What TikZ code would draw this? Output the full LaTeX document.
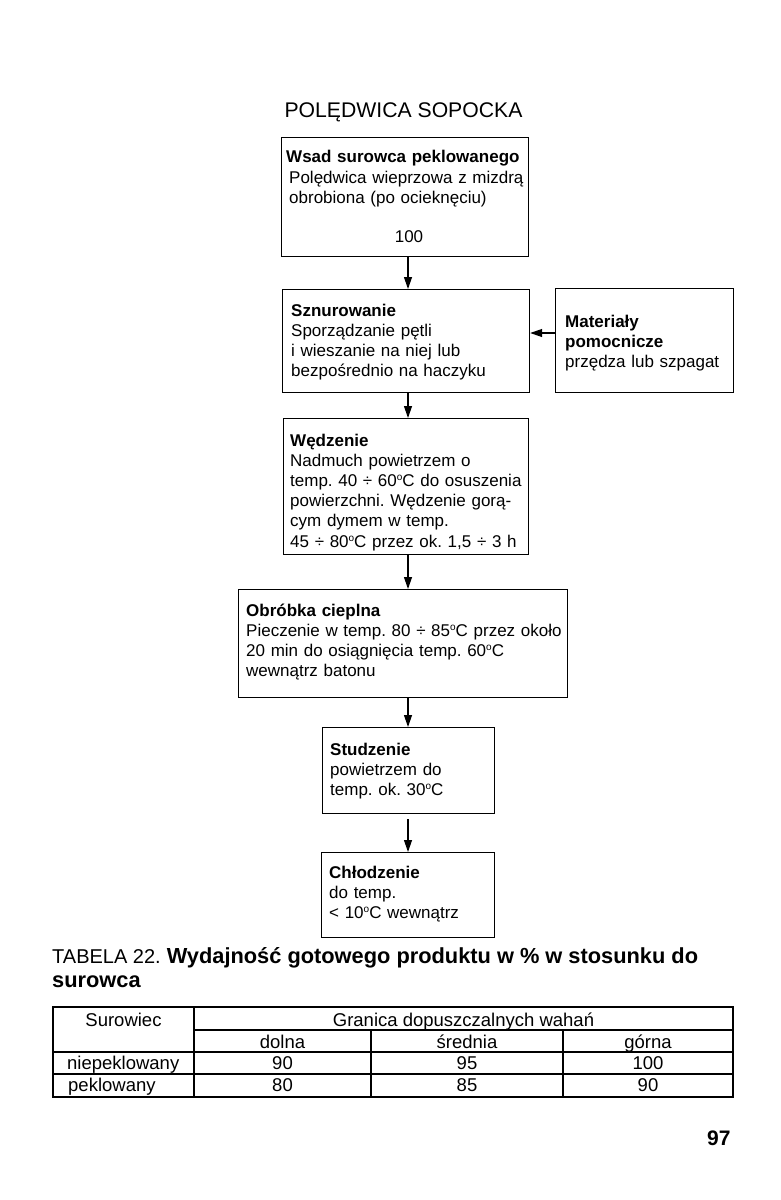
\documentclass[tikz,border=0pt]{standalone}
\usepackage{fontspec}
\setmainfont{Liberation Sans}
\usetikzlibrary{arrows.meta}
\frenchspacing
\newcommand{\dgC}{\raisebox{0.65ex}{\fontsize{10}{11}\selectfont o}C}
\tikzset{
  box/.style={draw, line width=1.2pt, inner sep=0pt, anchor=north west},
  btxt/.style={inner sep=0pt, anchor=base west, align=left, text width=330pt, font=\fontsize{17}{20.2}\selectfont},
  arr/.style={-{Triangle[length=12pt,width=8pt]}, line width=1.2pt},
  tline/.style={line width=1.2pt},
  ttxt/.style={inner sep=0pt, anchor=base, font=\fontsize{18.5}{22}\selectfont},
}
\begin{document}
\begin{tikzpicture}[x=1pt,y=-1pt]
\useasboundingbox[fill=white] (0,0) rectangle (780,1200);

% title
\node[inner sep=0pt, anchor=base, font=\fontsize{21.2}{24}\selectfont] (title) at (403.5,117) {POLĘDWICA SOPOCKA};

% boxes
\node[box, minimum width=247pt, minimum height=119pt] (b1) at (281,137) {};
\node[box, minimum width=247pt, minimum height=103pt] (b2) at (282,289) {};
\node[box, minimum width=178pt, minimum height=104pt] (b3) at (555,288) {};
\node[box, minimum width=245pt, minimum height=136pt] (b4) at (283,418) {};
\node[box, minimum width=329pt, minimum height=108pt] (b5) at (238,589) {};
\node[box, minimum width=172pt, minimum height=86pt] (b6) at (322,727) {};
\node[box, minimum width=173pt, minimum height=85pt] (b7) at (321,852) {};

% box texts
\node[btxt, font=\fontsize{17}{20.2}\selectfont\bfseries] (t1a) at (286,162) {Wsad surowca peklowanego};
\node[btxt] (t1b) at (289,183) {Polędwica wieprzowa z mizdrą\\obrobiona (po ociekn\k{e}ciu)};
\node[inner sep=0pt, anchor=base, font=\fontsize{17}{20.2}\selectfont] (t1c) at (409,242) {100};

\node[btxt] (t2) at (291,316) {\textbf{Sznurowanie}\\Sporządzanie pętli\\i wieszanie na niej lub\\bezpośrednio na haczyku};
\node[btxt] (t3) at (565,327) {\textbf{Materiały}\\\textbf{pomocnicze}\\przędza lub szpagat};
\node[btxt] (t4) at (290,446) {\textbf{Wędzenie}\\Nadmuch powietrzem o\\temp. 40 ÷ 60\dgC{} do osuszenia\\powierzchni. Wędzenie gorą-\\cym dymem w temp.\\45 ÷ 80\dgC{} przez ok. 1,5 ÷ 3 h};
\node[btxt] (t5) at (246,616) {\textbf{Obróbka cieplna}\\Pieczenie w temp. 80 ÷ 85\dgC{} przez około\\20 min do osiągnięcia temp. 60\dgC\\wewnątrz batonu};
\node[btxt] (t6) at (330,755) {\textbf{Studzenie}\\powietrzem do\\temp. ok. 30\dgC};
\node[btxt] (t7) at (329,878) {\textbf{Chłodzenie}\\do temp.\\< 10\dgC{} wewnątrz};

% connectors
\coordinate (ax) at (408,0);
\coordinate (ay) at (0,333);
\draw[arr] (b1.south -| ax) -- (b2.north -| ax);
\draw[arr] (b2.south -| ax) -- (b4.north -| ax);
\draw[arr] (b4.south -| ax) -- (b5.north -| ax);
\draw[arr] (b5.south -| ax) -- (b6.north -| ax);
\draw[arr, shorten <=5pt] (b6.south -| ax) -- (b7.north -| ax);
\draw[arr] (b3.west |- ay) -- (b2.east |- ay);

% table caption
\node[inner sep=0pt, anchor=base west, font=\fontsize{20}{24}\selectfont] (cap1) at (52,963) {TABELA 22.\hspace{6pt}{\fontsize{21.8}{24}\selectfont\bfseries Wydajność gotowego produktu w \% w stosunku do}};
\node[inner sep=0pt, anchor=base west, font=\fontsize{21.8}{24}\selectfont\bfseries] (cap2) at (52,987) {surowca};

% table
\draw[tline] (53,1007) rectangle (733,1097);
\draw[tline] (194,1030) -- (733,1030);
\draw[tline] (53,1052) -- (733,1052);
\draw[tline] (53,1074) -- (733,1074);
\draw[tline] (194,1007) -- (194,1097);
\draw[tline] (371,1030) -- (371,1097);
\draw[tline] (563,1030) -- (563,1097);

\node[ttxt] (h1) at (123.5,1026) {Surowiec};
\node[ttxt] (h2) at (463.5,1026) {Granica dopuszczalnych wahań};
\node[ttxt] (h3) at (282.5,1048) {dolna};
\node[ttxt] (h4) at (467,1048) {średnia};
\node[ttxt] (h5) at (648,1048) {górna};
\node[ttxt, anchor=base west] (r1) at (67,1069) {niepeklowany};
\node[ttxt] (r1a) at (282.5,1069) {90};
\node[ttxt] (r1b) at (467,1069) {95};
\node[ttxt] (r1c) at (648,1069) {100};
\node[ttxt, anchor=base west] (r2) at (68,1091) {peklowany};
\node[ttxt] (r2a) at (282.5,1091) {80};
\node[ttxt] (r2b) at (467,1091) {85};
\node[ttxt] (r2c) at (648,1091) {90};

% page number
\node[inner sep=0pt, anchor=base west, font=\fontsize{21}{24}\selectfont\bfseries] (pg) at (707,1145) {97};
\end{tikzpicture}
\end{document}
